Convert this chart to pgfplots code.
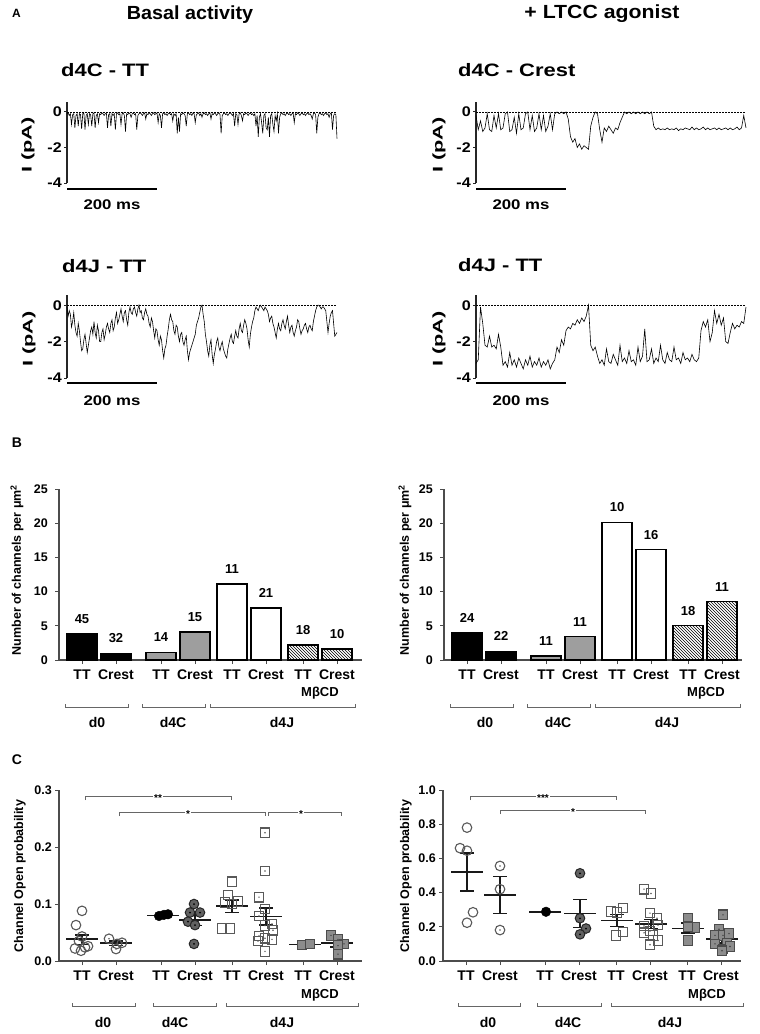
\documentclass[border=0pt]{standalone}
\usepackage{fontspec}
\setmainfont{Liberation Sans}
\usepackage{graphicx}
\usepackage{pgfplots}
\pgfplotsset{compat=1.18}
\usetikzlibrary{patterns}
\newcommand{\fs}[1]{\fontsize{#1}{#1}\selectfont}

\pgfdeclareplotmark{cdot}{%
  \pgfpathcircle{\pgfpointorigin}{\pgfplotmarksize}\pgfusepathqstroke
  \pgfpathcircle{\pgfpointorigin}{0.9pt}\pgfusepathqfill}
\pgfdeclareplotmark{fcdot}{%
  \pgfpathcircle{\pgfpointorigin}{\pgfplotmarksize}\pgfusepathqfillstroke
  \begin{pgfscope}\pgfsetfillcolor{black}\pgfpathcircle{\pgfpointorigin}{1pt}\pgfusepathqfill\end{pgfscope}}
\pgfdeclareplotmark{sdot}{%
  \pgfpathrectangle{\pgfpoint{-\pgfplotmarksize}{-\pgfplotmarksize}}{\pgfpoint{2\pgfplotmarksize}{2\pgfplotmarksize}}\pgfusepathqstroke
  \pgfpathcircle{\pgfpointorigin}{0.8pt}\pgfusepathqfill}
\pgfdeclareplotmark{fsdot}{%
  \pgfpathrectangle{\pgfpoint{-\pgfplotmarksize}{-\pgfplotmarksize}}{\pgfpoint{2\pgfplotmarksize}{2\pgfplotmarksize}}\pgfusepathqfillstroke
  \begin{pgfscope}\pgfsetfillcolor{black!75}\pgfpathcircle{\pgfpointorigin}{0.8pt}\pgfusepathqfill\end{pgfscope}}

\newcommand{\mline}[2]{\addplot[black!90, line width=1.8pt] coordinates {({#1-16},#2) ({#1+16},#2)};}
\newcommand{\msem}[4]{%
  \mline{#1}{#2}
  \addplot[black!90, line width=1.5pt] coordinates {(#1,#3) (#1,#4)};
  \addplot[black!90, line width=1.5pt] coordinates {({#1-7},#3) ({#1+7},#3)};
  \addplot[black!90, line width=1.5pt] coordinates {({#1-7},#4) ({#1+7},#4)};
}
\newcommand{\ubrk}[3]{\draw[black!60, line width=0.9pt] (#1,{-#3+3}) -- (#1,-#3) -- (#2,-#3) -- (#2,{-#3+3});}
\newcommand{\sbrk}[5]{\draw[black!60, line width=0.9pt] (#1,{-#3-4}) -- (#1,-#3) -- (#2,-#3) -- (#2,{-#3-4});
  \node[fill=white, inner sep=1.5pt, font=\bfseries\fs{10}] at (#4,{-#3-2}) {#5};}

\tikzset{barl/.style={font=\bfseries\fs{13}, text=black, inner sep=0pt, anchor=south, yshift=10pt}}

\pgfplotsset{
  trace/.style={scale only axis, width=270pt, xmin=0, xmax=600, ymin=-4, ymax=0.56,
    axis x line=none, axis y line=left, axis line style={-, line width=1.1pt, black!85},
    clip=false, ytick={-4,-2,0},
    yticklabels={\scalebox{1.15}[1]{-4},\scalebox{1.15}[1]{-2},\scalebox{1.15}[1]{0}},
    tick align=outside, major tick length=3pt, tick style={line width=1pt, black!85},
    yticklabel style={font=\bfseries\fs{14}, inner sep=0pt, xshift=-2pt}},
  tr/.style={black, line width=0.6pt},
  zl/.style={black, line width=0.8pt, dash pattern=on 1.5pt off 1.5pt},
  cat/.style={scale only axis, height=171pt, xmin=0, ymin=0,
    axis x line=bottom, axis y line=left, axis line style={-, line width=1.1pt, black!70},
    clip=false, tick align=outside, major tick length=4pt, tick style={line width=1pt, black!70},
    xtick={23,57,102,136,173,207,244,278},
    xticklabels={TT,Crest,TT,Crest,TT,Crest,TT,Crest},
    xticklabel style={font=\bfseries\fs{14}, inner sep=0pt, anchor=north, yshift=-6pt},
    yticklabel style={font=\bfseries\fs{12.5}, inner sep=0pt, xshift=-3pt}},
  oc/.style={only marks, mark=o, mark size=4.8pt, color=black!65, mark options={line width=1.1pt}},
  ocd/.style={only marks, mark=cdot, mark size=4.8pt, color=black!65, mark options={line width=1.1pt}},
  fcb/.style={only marks, mark=*, mark size=4.8pt, color=black},
  fcd/.style={only marks, mark=fcdot, mark size=4.8pt, mark options={draw=black!85, fill=black!62, line width=1pt}},
  os/.style={only marks, mark=square, mark size=4.8pt, color=black!65, mark options={line width=1.1pt}},
  osd/.style={only marks, mark=sdot, mark size=4.8pt, color=black!65, mark options={line width=1.1pt}},
  fs/.style={only marks, mark=square*, mark size=4.8pt, mark options={draw=black!70, fill=black!45, line width=1.1pt}},
  fsd/.style={only marks, mark=fsdot, mark size=4.8pt, mark options={draw=black!70, fill=black!45, line width=1.1pt}},
  bb/.style={ybar, bar width=30, bar shift=0pt, draw=black, line width=1.2pt,
    nodes near coords, point meta=explicit symbolic, every node near coord/.append style={barl}},
}

\begin{document}
\begin{tikzpicture}[x=1pt,y=1pt]
\useasboundingbox (0,0) rectangle (760,-1034);
\fill[white] (0,0) rectangle (760,-1034);

% ---------------- Panel A ----------------
\node[anchor=base west, inner sep=0, font=\bfseries\fs{12}] at (12,-17) {A};
\node[anchor=base, inner sep=0, font=\bfseries\fs{19}] at (190,-19) {\scalebox{1.04}[1]{Basal activity}};
\node[anchor=base, inner sep=0, font=\bfseries\fs{19}] at (602,-18) {\scalebox{1.12}[1]{+ LTCC agonist}};

\node[anchor=base west, inner sep=0, font=\bfseries\fs{18}] at (61,-76) {\scalebox{1.22}[1]{d4C - TT}};
\node[anchor=base west, inner sep=0, font=\bfseries\fs{18}] at (458,-76) {\scalebox{1.22}[1]{d4C - Crest}};
\node[anchor=base west, inner sep=0, font=\bfseries\fs{18}] at (62,-272) {\scalebox{1.22}[1]{d4J - TT}};
\node[anchor=base west, inner sep=0, font=\bfseries\fs{18}] at (458,-271) {\scalebox{1.22}[1]{d4J - TT}};

\node[rotate=90, inner sep=0, font=\bfseries\fs{14}] at (28,-145) {\scalebox{1.55}[1]{I (pA)}};
\node[rotate=90, inner sep=0, font=\bfseries\fs{14}] at (439,-145) {\scalebox{1.55}[1]{I (pA)}};
\node[rotate=90, inner sep=0, font=\bfseries\fs{14}] at (29,-339) {\scalebox{1.55}[1]{I (pA)}};
\node[rotate=90, inner sep=0, font=\bfseries\fs{14}] at (439,-339) {\scalebox{1.55}[1]{I (pA)}};

% trace 1: d4C - TT basal (2.5 ms samples)
\begin{axis}[trace, at={(67pt,-183pt)}, anchor=south west, height=81pt]
\addplot[zl] coordinates {(0,0) (600,0)};
\addplot[tr] table[row sep=\\, x expr=\coordindex*2.5, y index=0] {y\\
-0.1\\-0.05\\-0.2\\-0.1\\-0.7\\-0.15\\-0.1\\-0.9\\-0.2\\-0.1\\
-0.8\\-0.1\\-0.15\\-0.95\\-0.1\\-0.05\\-1.0\\-0.2\\-0.1\\-0.7\\
-0.1\\-0.15\\-0.8\\-0.1\\-0.05\\-0.9\\-0.2\\-0.1\\-0.6\\-0.1\\
-0.15\\-0.05\\-0.1\\-0.2\\-0.1\\-0.05\\-0.9\\-0.15\\-0.1\\-0.8\\
-0.1\\-0.2\\-0.1\\-1.0\\-0.1\\-0.05\\-0.15\\-0.1\\-0.7\\-0.1\\
-0.05\\-0.2\\-1.1\\-0.1\\-0.15\\-0.05\\-0.1\\-0.3\\-0.1\\-0.05\\
-0.15\\-0.1\\-1.0\\-0.2\\-0.1\\-0.05\\-0.1\\-0.2\\-0.1\\-0.05\\
-0.4\\-0.1\\-0.15\\-0.05\\-0.1\\-0.2\\-0.1\\-0.05\\-0.15\\-0.1\\
-0.05\\-0.6\\-0.1\\-0.2\\-0.9\\-0.1\\-0.05\\-0.15\\-0.1\\-0.2\\
-0.1\\-0.05\\-0.15\\-0.1\\-0.5\\-0.1\\-0.2\\-0.1\\-1.2\\-0.3\\
-1.1\\-0.1\\-0.15\\-0.05\\-0.1\\-0.2\\-0.8\\-0.1\\-0.05\\-0.15\\
-0.1\\-0.2\\-0.05\\-0.1\\-0.6\\-0.15\\-0.1\\-0.05\\-0.2\\-0.1\\
-0.3\\-0.1\\-0.05\\-0.15\\-0.1\\-0.2\\-0.1\\-0.05\\-0.4\\-0.1\\
-0.15\\-0.05\\-0.1\\-0.2\\-0.1\\-0.05\\-0.15\\-1.2\\-0.2\\-0.1\\
-0.05\\-0.15\\-0.1\\-0.2\\-0.1\\-0.05\\-0.1\\-0.2\\-0.1\\-0.8\\
-0.1\\-0.15\\-0.7\\-0.1\\-0.05\\-0.2\\-0.5\\-0.1\\-0.15\\-0.05\\
-0.1\\-0.2\\-0.1\\-0.05\\-0.15\\-0.1\\-0.2\\-0.1\\-0.8\\-0.2\\
-1.4\\-0.3\\-0.1\\-0.6\\-1.2\\-0.2\\-0.1\\-0.9\\-1.0\\-0.3\\
-1.4\\-0.2\\-0.1\\-0.7\\-1.1\\-0.2\\-0.5\\-0.1\\-1.2\\-0.3\\
-0.1\\-0.05\\-0.15\\-0.1\\-0.2\\-0.1\\-0.05\\-0.15\\-0.1\\-0.2\\
-0.1\\-0.05\\-0.6\\-0.1\\-0.15\\-0.05\\-0.1\\-0.2\\-0.1\\-0.05\\
-0.15\\-0.1\\-0.2\\-0.1\\-0.05\\-0.15\\-0.1\\-0.2\\-0.4\\-0.1\\
-0.05\\-0.15\\-1.2\\-0.3\\-0.1\\-0.05\\-0.15\\-0.1\\-0.2\\-0.1\\
-0.05\\-0.15\\-0.1\\-0.3\\-0.1\\-0.05\\-1.0\\-0.2\\-0.1\\-0.15\\
-1.5\\};
\draw[line width=1.3pt] (axis cs:0,-4.34) -- (axis cs:200,-4.34);
\node[anchor=north, inner sep=0, font=\bfseries\fs{14}, yshift=-10pt] at (axis cs:100,-4.34) {\scalebox{1.2}[1]{200 ms}};
\end{axis}

% trace 2: d4C - Crest agonist
\begin{axis}[trace, at={(476pt,-183pt)}, anchor=south west, height=81pt]
\addplot[zl] coordinates {(0,0) (600,0)};
\addplot[tr] table[row sep=\\, x expr=\coordindex*5, y index=0] {y\\
-0.2\\-1.0\\-0.5\\-1.1\\-0.9\\-0.1\\-1.0\\-1.1\\-0.2\\-0.9\\
-0.1\\-1.0\\-0.9\\-0.1\\0.0\\-1.1\\-1.0\\-0.3\\-1.2\\-0.1\\
-1.0\\-0.9\\-0.1\\0.0\\-1.0\\-0.2\\-1.1\\-0.9\\-0.1\\-1.0\\
-0.2\\-1.1\\-0.8\\-0.1\\-1.0\\-0.1\\0.0\\-0.1\\0.0\\-0.1\\
0.0\\-0.4\\-1.4\\-1.7\\-1.5\\-2.0\\-1.8\\-2.1\\-1.9\\-2.0\\
-2.1\\-0.8\\-0.3\\0.0\\-0.1\\-1.0\\-1.7\\-0.9\\-1.1\\-0.8\\
-1.0\\-1.2\\-0.9\\-1.0\\-0.6\\-0.3\\0.0\\-0.1\\0.0\\-0.1\\
0.0\\-0.1\\0.0\\-0.1\\0.0\\-0.1\\0.0\\-0.1\\0.0\\-0.8\\
-1.0\\-0.9\\-1.0\\-0.95\\-1.0\\-0.9\\-1.0\\-0.95\\-1.0\\-0.9\\
-1.05\\-0.95\\-1.0\\-0.9\\-0.95\\-1.0\\-0.85\\-1.0\\-0.9\\-1.0\\
-0.95\\-0.85\\-1.0\\-0.9\\-1.0\\-0.95\\-0.9\\-1.0\\-0.9\\-1.0\\
-0.95\\-0.9\\-1.0\\-0.9\\-1.0\\-0.95\\-0.85\\-1.0\\-0.9\\-0.2\\
-0.9\\};
\draw[line width=1.3pt] (axis cs:0,-4.34) -- (axis cs:200,-4.34);
\node[anchor=north, inner sep=0, font=\bfseries\fs{14}, yshift=-10pt] at (axis cs:100,-4.34) {\scalebox{1.2}[1]{200 ms}};
\end{axis}

% trace 3: d4J - TT basal (2.5 ms samples)
\begin{axis}[trace, at={(67pt,-378pt)}, anchor=south west, height=83pt]
\addplot[zl] coordinates {(0,0) (600,0)};
\addplot[tr] table[row sep=\\, x expr=\coordindex*2.5, y index=0] {y\\
-0.1\\-0.6\\-0.3\\-0.5\\-1.2\\-0.9\\-0.4\\-1.1\\-1.5\\-1.7\\-1.0\\-1.4\\-2.0\\-2.5\\-2.4\\-1.9\\-1.6\\-2.1\\-2.6\\-2.2\\
-1.8\\-1.4\\-1.2\\-1.6\\-0.9\\-1.5\\-1.8\\-1.1\\-1.4\\-2.0\\-2.0\\-1.5\\-1.3\\-1.9\\-1.6\\-1.2\\-1.0\\-1.3\\-1.5\\-1.0\\
-0.8\\-1.4\\-1.2\\-0.7\\-0.4\\-1.0\\-0.8\\-0.5\\-0.2\\-0.6\\-0.9\\-0.4\\-0.3\\-0.8\\-1.1\\-0.4\\-0.1\\-0.4\\-0.5\\-0.2\\
-0.1\\-0.4\\-0.6\\-0.2\\0.0\\-0.4\\-0.3\\-0.7\\-0.8\\-0.4\\-0.2\\-0.5\\-0.6\\-1.0\\-1.2\\-0.7\\-0.9\\-1.4\\-1.8\\-1.3\\
-1.4\\-1.9\\-2.2\\-1.7\\-1.9\\-2.5\\-2.9\\-2.4\\-2.2\\-1.7\\-1.3\\-0.8\\-0.5\\-0.8\\-0.9\\-1.4\\-1.6\\-1.1\\-1.2\\-1.7\\
-2.0\\-1.6\\-1.5\\-2.0\\-2.2\\-1.9\\-1.7\\-2.5\\-3.0\\-2.6\\-2.4\\-2.2\\-2.0\\-1.8\\-1.6\\-1.1\\-0.9\\-0.7\\-0.4\\-0.1\\
0.0\\-0.5\\-0.9\\-1.6\\-2.0\\-2.5\\-2.8\\-2.2\\-1.9\\-2.7\\-3.2\\-2.7\\-2.4\\-2.0\\-1.8\\-2.3\\-2.5\\-2.2\\-2.0\\-2.4\\
-2.6\\-2.8\\-2.9\\-2.4\\-2.1\\-1.8\\-1.6\\-2.0\\-2.1\\-1.7\\-1.4\\-1.7\\-1.8\\-1.3\\-1.0\\-1.4\\-1.5\\-1.1\\-0.8\\-1.0\\
-1.3\\-1.9\\-2.3\\-1.6\\-1.2\\-0.9\\-0.7\\-0.3\\-0.1\\-0.2\\-0.3\\-0.1\\0.0\\-0.1\\-0.2\\-0.3\\-0.1\\-0.2\\-0.3\\-0.5\\
-0.9\\-0.7\\-0.6\\-1.0\\-1.2\\-1.5\\-1.8\\-1.3\\-1.0\\-1.3\\-1.4\\-1.0\\-0.8\\-1.1\\-1.3\\-0.9\\-0.6\\-1.1\\-1.5\\-1.2\\
-1.1\\-1.5\\-1.7\\-1.4\\-1.2\\-0.8\\-0.9\\-1.3\\-1.6\\-1.4\\-1.3\\-1.1\\-1.0\\-1.3\\-1.5\\-1.2\\-1.1\\-1.3\\-1.4\\-0.9\\
-0.6\\-0.3\\-0.1\\0.0\\0.0\\-0.1\\-0.2\\-0.1\\-0.1\\-0.2\\-0.3\\-0.9\\-1.5\\-1.0\\-0.6\\-0.4\\-0.3\\-1.0\\-1.7\\-1.6\\
-1.5\\};
\draw[line width=1.3pt] (axis cs:0,-4.27) -- (axis cs:200,-4.27);
\node[anchor=north, inner sep=0, font=\bfseries\fs{14}, yshift=-13pt] at (axis cs:100,-4.27) {\scalebox{1.2}[1]{200 ms}};
\end{axis}

% trace 4: d4J - TT agonist
\begin{axis}[trace, at={(476pt,-378pt)}, anchor=south west, height=83pt]
\addplot[zl] coordinates {(0,0) (600,0)};
\addplot[tr] table[row sep=\\, x expr=\coordindex*5, y index=0] {y\\
-3.2\\-3.0\\-0.1\\-1.0\\-2.2\\-2.3\\-1.7\\-2.3\\-2.2\\-2.4\\
-1.6\\-2.3\\-3.3\\-3.1\\-3.4\\-2.6\\-3.3\\-3.0\\-3.4\\-2.9\\
-3.2\\-3.5\\-3.0\\-3.3\\-2.8\\-3.4\\-3.1\\-3.3\\-2.9\\-3.4\\
-3.1\\-3.3\\-3.0\\-3.5\\-3.2\\-3.0\\-2.3\\-2.6\\-1.9\\-2.2\\
-1.4\\-1.2\\-1.3\\-1.0\\-1.1\\-0.8\\-1.0\\-0.7\\-0.9\\-0.6\\
0.0\\-2.2\\-2.5\\-2.3\\-2.8\\-3.2\\-3.0\\-3.3\\-2.4\\-3.1\\
-3.2\\-2.7\\-3.0\\-3.3\\-2.2\\-3.1\\-2.9\\-3.2\\-2.5\\-3.1\\
-3.0\\-3.3\\-2.3\\-3.1\\-2.8\\-1.3\\-3.1\\-3.0\\-2.4\\-3.2\\
-2.9\\-3.1\\-2.2\\-3.0\\-3.2\\-2.6\\-3.0\\-3.1\\-2.3\\-3.0\\
-2.9\\-3.2\\-2.6\\-3.0\\-2.9\\-3.1\\-2.7\\-3.0\\-3.1\\-2.9\\
-1.4\\-0.9\\-1.2\\-0.8\\-2.0\\-1.5\\-0.3\\-1.0\\-0.5\\-1.1\\
-0.7\\-2.0\\-2.1\\-1.5\\-1.0\\-1.3\\-1.1\\-1.2\\-0.9\\-1.0\\
-0.1\\};
\draw[line width=1.3pt] (axis cs:0,-4.27) -- (axis cs:200,-4.27);
\node[anchor=north, inner sep=0, font=\bfseries\fs{14}, yshift=-13pt] at (axis cs:100,-4.27) {\scalebox{1.2}[1]{200 ms}};
\end{axis}

% ---------------- Panel B ----------------
\node[inner sep=0, font=\bfseries\fs{14}] at (17,-443) {B};
\node[rotate=90, inner sep=0, font=\bfseries\fs{12.5}] at (17,-570) {Number of channels per μm\textsuperscript{2}};
\node[rotate=90, inner sep=0, font=\bfseries\fs{12.5}] at (405,-570) {Number of channels per μm\textsuperscript{2}};

\begin{axis}[cat, at={(59pt,-660pt)}, anchor=south west, width=303pt, xmax=303, ymax=25,
  ytick={0,5,10,15,20,25}, yticklabels={0,5,10,15,20,25}, yticklabel style={xshift=-4pt}]
\addplot[bb, fill=black] table[row sep=\\, meta=n] {x y n\\ 23 3.8 45\\ 57 1.0 32\\};
\addplot[bb, fill=black!38] table[row sep=\\, meta=n] {x y n\\ 102 1.1 14\\ 136 4.1 15\\};
\addplot[bb, fill=white] table[row sep=\\, meta=n] {x y n\\ 173 11.1 11\\ 207 7.6 21\\};
\addplot[bb, pattern=north west lines] table[row sep=\\, meta=n] {x y n\\ 244 2.2 18\\ 278 1.6 10\\};
\end{axis}

\begin{axis}[cat, at={(444pt,-660pt)}, anchor=south west, width=298pt, xmax=298, ymax=25,
  ytick={0,5,10,15,20,25}, yticklabels={0,5,10,15,20,25}, yticklabel style={xshift=-4pt}]
\addplot[bb, fill=black] table[row sep=\\, meta=n] {x y n\\ 23 4.0 24\\ 57 1.3 22\\};
\addplot[bb, fill=black!38] table[row sep=\\, meta=n] {x y n\\ 102 0.6 11\\ 136 3.4 11\\};
\addplot[bb, fill=white] table[row sep=\\, meta=n] {x y n\\ 173 20.1 10\\ 207 16.1 16\\};
\addplot[bb, pattern=north west lines] table[row sep=\\, meta=n] {x y n\\ 244 5.0 18\\ 278 8.5 11\\};
\end{axis}

\node[inner sep=0, font=\bfseries\fs{13}] at (320,-693) {MβCD};
\node[inner sep=0, font=\bfseries\fs{13}] at (706,-693) {MβCD};
\ubrk{65}{128}{707} \ubrk{142}{205}{707} \ubrk{210}{355}{707}
\ubrk{450}{513}{707} \ubrk{527}{590}{707} \ubrk{595}{740}{707}
\node[inner sep=0, font=\bfseries\fs{14}] at (97,-722) {d0};
\node[inner sep=0, font=\bfseries\fs{14}] at (173,-722) {d4C};
\node[inner sep=0, font=\bfseries\fs{14}] at (282,-722) {d4J};
\node[inner sep=0, font=\bfseries\fs{14}] at (485,-722) {d0};
\node[inner sep=0, font=\bfseries\fs{14}] at (558,-722) {d4C};
\node[inner sep=0, font=\bfseries\fs{14}] at (667,-722) {d4J};

% ---------------- Panel C ----------------
\node[inner sep=0, font=\bfseries\fs{14}] at (17,-760) {C};
\node[rotate=90, inner sep=0, font=\bfseries\fs{12.5}] at (20,-876) {Channel Open probability};
\node[rotate=90, inner sep=0, font=\bfseries\fs{12.5}] at (406,-876) {Channel Open probability};

\begin{axis}[cat, at={(59pt,-961pt)}, anchor=south west, width=303pt, xmax=303, ymax=0.3,
  ytick={0,0.1,0.2,0.3}, yticklabels={0.0,0.1,0.2,0.3}]
\addplot[oc] coordinates {(23,0.088)(17,0.063)(23,0.043)(20,0.035)(16,0.022)(26,0.024)(22,0.018)(29,0.026)};
\addplot[ocd] coordinates {(50,0.039)(57,0.021)(63,0.032)(58,0.030)};
\addplot[fcb] coordinates {(100,0.079)(105,0.081)(109,0.082)};
\addplot[fcd] coordinates {(135,0.100)(131,0.085)(141,0.085)(129,0.069)(136,0.063)(135,0.030)};
\addplot[os] coordinates {(173,0.139)(169,0.116)(166,0.103)(179,0.104)(173,0.100)(163,0.057)(171,0.057)};
\addplot[osd] coordinates {(206,0.225)(206,0.158)(200,0.112)(206,0.091)(200,0.079)(213,0.065)(206,0.062)(214,0.054)(200,0.044)(206,0.040)(213,0.038)(199,0.035)(206,0.017)};
\addplot[fs] coordinates {(243,0.028)(251,0.030)};
\addplot[fsd] coordinates {(272,0.045)(279,0.038)(285,0.030)(279,0.027)(279,0.012)};
\msem{23}{0.038}{0.029}{0.046}
\msem{57}{0.031}{0.027}{0.035}
\mline{104}{0.080}
\msem{136}{0.072}{0.062}{0.082}
\msem{173}{0.096}{0.085}{0.107}
\msem{207}{0.078}{0.063}{0.093}
\mline{246}{0.029}
\msem{278}{0.032}{0.025}{0.037}
\end{axis}

\begin{axis}[cat, at={(443pt,-961pt)}, anchor=south west, width=298pt, xmax=298, ymax=1,
  ytick={0,0.2,0.4,0.6,0.8,1}, yticklabels={0.0,0.2,0.4,0.6,0.8,1.0}]
\addplot[oc] coordinates {(24,0.78)(17,0.66)(24,0.645)(30,0.285)(24,0.224)};
\addplot[ocd] coordinates {(57,0.556)(57,0.42)(57,0.181)};
\addplot[fcb] coordinates {(103,0.288)};
\addplot[fcd] coordinates {(137,0.513)(137,0.25)(143,0.19)(137,0.156)};
\addplot[os] coordinates {(168,0.29)(174,0.285)(180,0.31)(180,0.17)(173,0.15)};
\addplot[osd] coordinates {(201,0.42)(208,0.395)(207,0.28)(214,0.25)(201,0.205)(215,0.21)(207,0.175)(201,0.165)(210,0.15)(215,0.12)(207,0.095)};
\addplot[fs] coordinates {(245,0.25)(252,0.195)(245,0.20)(245,0.12)};
\addplot[fsd] coordinates {(280,0.27)(276,0.186)(272,0.15)(280,0.15)(286,0.16)(272,0.10)(284,0.105)(280,0.07)(287,0.085)(279,0.06)};
\msem{24}{0.52}{0.408}{0.633}
\msem{57}{0.386}{0.277}{0.495}
\mline{102}{0.288}
\msem{137}{0.278}{0.197}{0.36}
\msem{174}{0.237}{0.203}{0.272}
\msem{208}{0.216}{0.19}{0.242}
\msem{245}{0.19}{0.163}{0.222}
\msem{279}{0.127}{0.105}{0.15}
\end{axis}

\sbrk{85}{231}{796}{158}{**}
\sbrk{119}{265}{812}{188}{*}
\sbrk{268}{341}{812}{301}{*}
\sbrk{470}{616}{796}{543}{***}
\sbrk{500}{645}{810}{573}{*}

\node[inner sep=0, font=\bfseries\fs{13}] at (320,-995) {MβCD};
\node[inner sep=0, font=\bfseries\fs{13}] at (707,-995) {MβCD};
\ubrk{72}{135}{1006} \ubrk{153}{216}{1006} \ubrk{226}{358}{1006}
\ubrk{458}{520}{1006} \ubrk{537}{601}{1006} \ubrk{611}{743}{1006}
\node[inner sep=0, font=\bfseries\fs{14}] at (103,-1022) {d0};
\node[inner sep=0, font=\bfseries\fs{14}] at (175,-1022) {d4C};
\node[inner sep=0, font=\bfseries\fs{14}] at (282,-1022) {d4J};
\node[inner sep=0, font=\bfseries\fs{14}] at (488,-1022) {d0};
\node[inner sep=0, font=\bfseries\fs{14}] at (568,-1022) {d4C};
\node[inner sep=0, font=\bfseries\fs{14}] at (670,-1022) {d4J};
\end{tikzpicture}
\end{document}
